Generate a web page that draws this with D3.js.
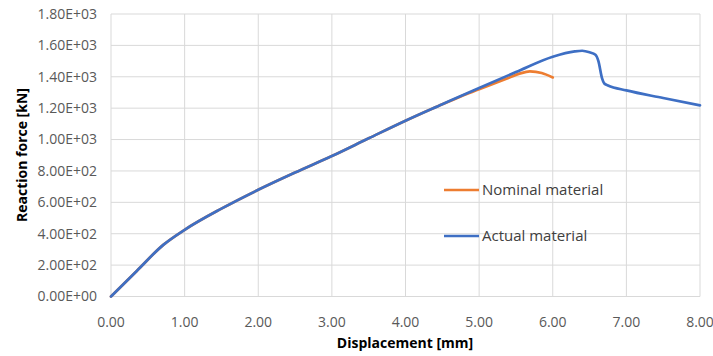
<!DOCTYPE html>
<html>
<head>
<meta charset="utf-8">
<script src="https://cdn.jsdelivr.net/npm/d3@7"></script>
<style>
  body { margin: 0; background: #fff; }
  svg text { font-family: "Open Sans", "Liberation Sans", sans-serif; }
</style>
</head>
<body>
<svg id="chart" width="713" height="356"></svg>
<script>
// values
const xTicks = [0, 1, 2, 3, 4, 5, 6, 7, 8];
const yTicks = [0, 200, 400, 600, 800, 1000, 1200, 1400, 1600, 1800];

const actualX = [0, 0.35, 0.71, 1.0, 1.5, 2.0, 2.5, 3.0, 3.5, 4.0, 4.5, 5.0, 5.5, 6.0, 6.3, 6.4, 6.5, 6.58, 6.62, 6.67, 6.7, 6.75, 7.0, 7.5, 8.0];
const actualY = [0, 163, 329, 425, 560, 680, 790, 895, 1008, 1120, 1225, 1329, 1430, 1528, 1562, 1566, 1556, 1540, 1500, 1390, 1357, 1345, 1313, 1265, 1218];

const nominalX = [0, 0.35, 0.71, 1.0, 1.5, 2.0, 2.5, 3.0, 3.5, 4.0, 4.5, 4.75, 5.0, 5.37, 5.55, 5.69, 5.85, 6.0];
const nominalY = [0, 163, 329, 425, 560, 680, 790, 895, 1008, 1120, 1225, 1275, 1320, 1388, 1420, 1434, 1424, 1396];

const seriesNames = ["Nominal material", "Actual material"];
const seriesColors = ["#ED7D31", "#3E6FC4"];

const svg = d3.select("#chart");
const margin = { left: 111, right: 13, top: 14, bottom: 60 };
const width = 713, height = 356;

const x = d3.scaleLinear().domain([0, 8]).range([margin.left, width - margin.right]);
const y = d3.scaleLinear().domain([0, 1800]).range([height - margin.bottom + 0.5, margin.top]);

// gridlines
svg.append("g").selectAll("line").data(yTicks).join("line")
  .attr("x1", x(0)).attr("x2", x(8))
  .attr("y1", d => y(d)).attr("y2", d => y(d))
  .attr("stroke", "#d9d9d9").attr("stroke-width", 1);
svg.append("g").selectAll("line").data(xTicks).join("line")
  .attr("x1", d => x(d)).attr("x2", d => x(d))
  .attr("y1", y(0)).attr("y2", y(1800))
  .attr("stroke", "#d9d9d9").attr("stroke-width", 1);

// tick labels
const fmtY = d => {
  if (d === 0) return "0.00E+00";
  const e = Math.floor(Math.log10(d));
  return (d / Math.pow(10, e)).toFixed(2) + "E+" + String(e).padStart(2, "0");
};
svg.append("g").selectAll("text").data(yTicks).join("text")
  .attr("x", 97).attr("y", d => y(d)).attr("dy", "0.35em")
  .attr("text-anchor", "end").attr("font-size", 14).attr("fill", "#595959")
  .text(fmtY);
svg.append("g").selectAll("text").data(xTicks).join("text")
  .attr("x", d => x(d)).attr("y", 322).attr("dy", "0.35em")
  .attr("text-anchor", "middle").attr("font-size", 14).attr("fill", "#595959")
  .text(d => d.toFixed(2));

// axis titles
svg.append("text").attr("x", 405).attr("y", 343).attr("dy", "0.35em")
  .attr("text-anchor", "middle").attr("font-size", 14).attr("font-weight", "bold")
  .attr("fill", "#000").text("Displacement [mm]");
svg.append("text").attr("transform", "translate(22,155) rotate(-90)").attr("dy", "0.35em")
  .attr("text-anchor", "middle").attr("font-size", 14).attr("font-weight", "bold")
  .attr("fill", "#000").text("Reaction force [kN]");

// series
const line = d3.line().x(d => x(d[0])).y(d => y(d[1])).curve(d3.curveMonotoneX);
const series = [d3.zip(nominalX, nominalY), d3.zip(actualX, actualY)];
series.forEach((pts, i) => {
  svg.append("path").datum(pts)
    .attr("d", line).attr("fill", "none")
    .attr("stroke", seriesColors[i]).attr("stroke-width", 2.7)
    .attr("stroke-linejoin", "round").attr("stroke-linecap", "round");
});

// legend
const legend = svg.append("g").selectAll("g").data(seriesNames).join("g")
  .attr("transform", (d, i) => `translate(444,${190 + i * 46})`);
legend.append("line").attr("x1", 0).attr("x2", 35).attr("y1", 0).attr("y2", 0)
  .attr("stroke", (d, i) => seriesColors[i]).attr("stroke-width", 2.7);
legend.append("text").attr("x", 38).attr("y", 0).attr("dy", "0.35em")
  .attr("font-size", 15).attr("fill", "#404040").text(d => d);
</script>
</body>
</html>
